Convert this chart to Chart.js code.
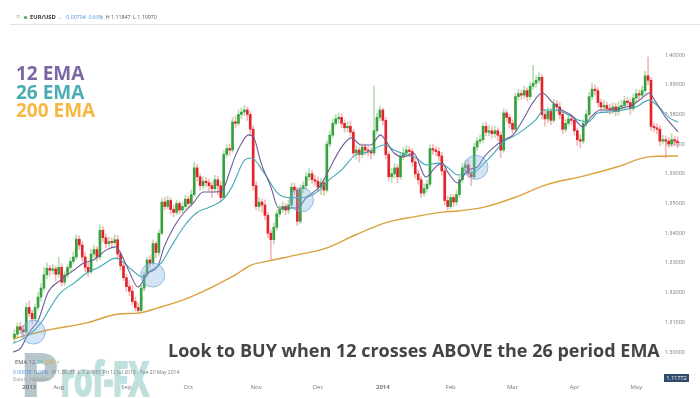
<!DOCTYPE html>
<html>
<head>
<meta charset="utf-8">
<script src="https://cdn.jsdelivr.net/npm/chart.js@4.4.0/dist/chart.umd.min.js"></script>
<style>
  html, body { margin: 0; padding: 0; background: #fff; }
  #wrap { position: relative; width: 700px; height: 398px; overflow: hidden; font-family: "Open Sans", sans-serif; }
  #chart { position: absolute; left: 0; top: 0; }
  .abs { position: absolute; white-space: nowrap; }
  #hdr { left: 16px; top: 13px; font-size: 5.3px; line-height: 8px; color: #555; }
  #hdr span { margin-right: 2.5px; }
  #mark { left: 20px; top: 342px; line-height: 62px; font-weight: 800; color: #bfe0dd; letter-spacing: -2px; }
  #mark .p { font-size: 62px; color: #b7c6ca; }
  #mark .rest { font-size: 50px; line-height: 50px; display: inline-block; transform: scaleX(0.62); transform-origin: left bottom; margin-left: 3px; }
  #emaTitles { left: 16px; top: 64px; font-size: 19px; line-height: 18.5px; font-weight: 700; }
  #caption { left: 168px; top: 341px; font-size: 18px; line-height: 18px; font-weight: 700; color: #444; }
  .small { font-size: 5px; line-height: 7px; color: #777; }
  #price { left: 664px; top: 374px; width: 25px; height: 8px; background: #2e4a6b; color: #fff; font-size: 5.5px; line-height: 8px; text-align: center; }
</style>
</head>
<body>
<div id="wrap">
  <div id="mark" class="abs"><span class="p">P</span><span class="rest">rof-FX</span></div>
  <canvas id="chart" width="700" height="398"></canvas>

  <div id="hdr" class="abs"><span style="color:#aaa;font-size:7px;margin-right:4px;">&#8801;</span><span style="display:inline-block;width:3px;height:3px;border-radius:50%;background:#2aa84a;vertical-align:middle;margin-right:3px;"></span><span style="font-weight:700;color:#333;font-size:5.8px;">EUR/USD</span><span style="color:#999;margin-right:4px;">&#8964;</span><span style="color:#4a8fd6;">0.00704</span><span style="color:#4a8fd6;">0.63%</span><span>H 1.11847</span><span>L 1.10970</span></div>
  <div class="abs" style="left:10px;top:24px;width:690px;height:1px;background:#e3e3e3;"></div>

  <div id="emaTitles" class="abs">
    <div style="color:#7d67a3;">12 EMA</div>
    <div style="color:#4badb3;">26 EMA</div>
    <div style="color:#f4b843;">200 EMA</div>
  </div>

  <div id="caption" class="abs">Look to BUY when 12 crosses ABOVE the 26 period EMA</div>

  <div class="abs small" style="left:15px;top:358.5px;font-size:5.8px;color:#555;">EMA <span style="color:#7d67a3">12</span> <span style="color:#4badb3">26</span> <span style="color:#e3a93a">200</span> <span style="color:#999">&#215;</span></div>
  <div class="abs small" style="left:13px;top:368.5px;"><span style="color:#4a8fd6">0.00018</span> &nbsp;<span style="color:#4a8fd6">0.01%</span> &nbsp; H 1.38035 &nbsp;L 1.29933 &nbsp;Fri 12 Jul 2013 - Tue 20 May 2014</div>
  <div class="abs small" style="left:13px;top:376px;font-size:4.6px;color:#999;">Data is indicative</div>

  <div id="price" class="abs">1.11772</div>
</div>

<script>
// daily EUR/USD candles, 12 Jul 2013 - 20 May 2014
const opens = [
  1.3045,1.3060,1.3085,1.3075,1.3068,1.3150,1.3130,1.3112,1.3150,1.3185,
  1.3215,1.3260,1.3282,1.3275,1.3280,1.3262,1.3285,1.3235,1.3260,1.3285,
  1.3305,1.3320,1.3380,1.3360,1.3320,1.3285,1.3270,1.3330,1.3345,1.3320,
  1.3410,1.3385,1.3365,1.3372,1.3368,1.3378,1.3330,1.3290,1.3250,1.3220,
  1.3205,1.3170,1.3150,1.3140,1.3215,1.3260,1.3310,1.3300,1.3365,1.3335,
  1.3400,1.3505,1.3490,1.3510,1.3480,1.3470,1.3500,1.3478,1.3490,1.3515,
  1.3500,1.3530,1.3620,1.3590,1.3560,1.3575,1.3570,1.3560,1.3550,1.3580,
  1.3560,1.3520,1.3665,1.3685,1.3680,1.3775,1.3770,1.3800,1.3808,1.3815,
  1.3800,1.3750,1.3560,1.3490,1.3505,1.3495,1.3460,1.3400,1.3378,1.3420,
  1.3465,1.3480,1.3490,1.3478,1.3495,1.3555,1.3545,1.3440,1.3550,1.3560,
  1.3590,1.3600,1.3580,1.3575,1.3555,1.3570,1.3545,1.3700,1.3730,1.3770,
  1.3785,1.3790,1.3770,1.3755,1.3760,1.3740,1.3670,1.3680,1.3665,1.3690,
  1.3680,1.3675,1.3670,1.3745,1.3790,1.3815,1.3780,1.3665,1.3590,1.3600,
  1.3620,1.3590,1.3660,1.3670,1.3680,1.3675,1.3640,1.3600,1.3580,1.3535,
  1.3550,1.3565,1.3685,1.3680,1.3675,1.3660,1.3610,1.3510,1.3490,1.3520,
  1.3505,1.3530,1.3580,1.3620,1.3630,1.3600,1.3590,1.3690,1.3710,1.3715,
  1.3760,1.3740,1.3745,1.3735,1.3745,1.3730,1.3680,1.3805,1.3790,1.3770,
  1.3750,1.3860,1.3870,1.3865,1.3880,1.3860,1.3895,1.3905,1.3915,1.3925,
  1.3800,1.3785,1.3810,1.3780,1.3835,1.3825,1.3800,1.3750,1.3770,1.3785,
  1.3780,1.3745,1.3715,1.3710,1.3770,1.3800,1.3860,1.3885,1.3880,1.3840,
  1.3825,1.3830,1.3820,1.3815,1.3825,1.3810,1.3825,1.3830,1.3845,1.3840,
  1.3820,1.3855,1.3870,1.3865,1.3880,1.3930,1.3915,1.3760,1.3755,1.3750,
  1.3710,1.3715,1.3710,1.3700,1.3715,1.3710
];
const highs = [
  1.3075,1.3098,1.3100,1.3090,1.3165,1.3172,1.3140,1.3160,1.3200,1.3230,
  1.3285,1.3300,1.3292,1.3296,1.3290,1.3320,1.3298,1.3270,1.3295,1.3318,
  1.3338,1.3395,1.3392,1.3372,1.3335,1.3300,1.3345,1.3360,1.3355,1.3428,
  1.3422,1.3398,1.3388,1.3385,1.3395,1.3392,1.3340,1.3302,1.3262,1.3240,
  1.3225,1.3185,1.3165,1.3225,1.3270,1.3320,1.3325,1.3378,1.3372,1.3412,
  1.3518,1.3522,1.3525,1.3520,1.3495,1.3512,1.3508,1.3505,1.3528,1.3525,
  1.3545,1.3640,1.3632,1.3600,1.3590,1.3588,1.3582,1.3572,1.3595,1.3592,
  1.3575,1.3678,1.3698,1.3700,1.3790,1.3795,1.3815,1.3822,1.3830,1.3825,
  1.3810,1.3762,1.3575,1.3520,1.3515,1.3512,1.3470,1.3412,1.3435,1.3478,
  1.3495,1.3505,1.3500,1.3510,1.3570,1.3568,1.3555,1.3562,1.3575,1.3605,
  1.3618,1.3612,1.3595,1.3590,1.3585,1.3580,1.3712,1.3745,1.3785,1.3800,
  1.3805,1.3802,1.3782,1.3775,1.3778,1.3750,1.3695,1.3690,1.3702,1.3700,
  1.3692,1.3688,1.3895,1.3805,1.3828,1.3822,1.3790,1.3675,1.3618,1.3635,
  1.3632,1.3672,1.3688,1.3695,1.3692,1.3685,1.3650,1.3612,1.3590,1.3565,
  1.3580,1.3698,1.3700,1.3692,1.3688,1.3672,1.3620,1.3525,1.3532,1.3530,
  1.3545,1.3592,1.3635,1.3645,1.3648,1.3615,1.3702,1.3722,1.3730,1.3772,
  1.3775,1.3762,1.3758,1.3760,1.3755,1.3740,1.3818,1.3815,1.3800,1.3782,
  1.3872,1.3885,1.3882,1.3895,1.3890,1.3910,1.3965,1.3930,1.3940,1.3935,
  1.3815,1.3825,1.3820,1.3850,1.3848,1.3840,1.3812,1.3782,1.3800,1.3798,
  1.3792,1.3755,1.3730,1.3782,1.3815,1.3875,1.3905,1.3900,1.3890,1.3852,
  1.3848,1.3842,1.3835,1.3840,1.3838,1.3842,1.3848,1.3862,1.3858,1.3852,
  1.3870,1.3885,1.3882,1.3895,1.3945,1.3993,1.3925,1.3772,1.3768,1.3762,
  1.3730,1.3728,1.3722,1.3735,1.3728,1.3725
];
const lows = [
  1.3030,1.3052,1.3062,1.3050,1.3060,1.3118,1.3095,1.3105,1.3140,1.3170,
  1.3205,1.3248,1.3255,1.3262,1.3240,1.3250,1.3222,1.3225,1.3250,1.3272,
  1.3295,1.3312,1.3345,1.3305,1.3270,1.3255,1.3262,1.3318,1.3305,1.3312,
  1.3370,1.3350,1.3355,1.3355,1.3360,1.3318,1.3275,1.3240,1.3205,1.3190,
  1.3158,1.3138,1.3128,1.3135,1.3205,1.3250,1.3285,1.3292,1.3318,1.3325,
  1.3395,1.3478,1.3482,1.3465,1.3455,1.3462,1.3465,1.3470,1.3482,1.3488,
  1.3492,1.3522,1.3575,1.3545,1.3548,1.3555,1.3542,1.3520,1.3540,1.3530,
  1.3505,1.3515,1.3655,1.3662,1.3672,1.3755,1.3762,1.3785,1.3795,1.3780,
  1.3730,1.3545,1.3478,1.3475,1.3470,1.3445,1.3385,1.3310,1.3365,1.3410,
  1.3455,1.3470,1.3462,1.3465,1.3485,1.3530,1.3425,1.3432,1.3535,1.3548,
  1.3578,1.3568,1.3560,1.3540,1.3530,1.3528,1.3538,1.3690,1.3720,1.3762,
  1.3770,1.3755,1.3740,1.3742,1.3725,1.3655,1.3650,1.3640,1.3655,1.3665,
  1.3660,1.3650,1.3662,1.3735,1.3778,1.3765,1.3650,1.3575,1.3572,1.3585,
  1.3570,1.3582,1.3648,1.3660,1.3658,1.3625,1.3585,1.3565,1.3520,1.3525,
  1.3540,1.3558,1.3665,1.3660,1.3645,1.3595,1.3495,1.3478,1.3482,1.3490,
  1.3495,1.3520,1.3570,1.3608,1.3588,1.3560,1.3582,1.3678,1.3700,1.3705,
  1.3728,1.3728,1.3720,1.3722,1.3712,1.3655,1.3672,1.3775,1.3755,1.3735,
  1.3742,1.3848,1.3850,1.3855,1.3845,1.3850,1.3885,1.3892,1.3905,1.3785,
  1.3760,1.3772,1.3765,1.3772,1.3810,1.3785,1.3735,1.3740,1.3760,1.3765,
  1.3730,1.3695,1.3688,1.3702,1.3760,1.3792,1.3850,1.3865,1.3825,1.3810,
  1.3815,1.3805,1.3800,1.3802,1.3795,1.3798,1.3812,1.3815,1.3825,1.3800,
  1.3812,1.3840,1.3850,1.3855,1.3872,1.3900,1.3745,1.3740,1.3735,1.3695,
  1.3700,1.3655,1.3688,1.3692,1.3695,1.3688
];
const closes = [
  1.3060,1.3085,1.3075,1.3068,1.3150,1.3130,1.3112,1.3150,1.3185,1.3215,
  1.3260,1.3282,1.3275,1.3280,1.3262,1.3285,1.3235,1.3260,1.3285,1.3305,
  1.3320,1.3380,1.3360,1.3320,1.3285,1.3270,1.3330,1.3345,1.3320,1.3410,
  1.3385,1.3365,1.3372,1.3368,1.3378,1.3330,1.3290,1.3250,1.3220,1.3205,
  1.3170,1.3150,1.3140,1.3215,1.3260,1.3310,1.3300,1.3365,1.3335,1.3400,
  1.3505,1.3490,1.3510,1.3480,1.3470,1.3500,1.3478,1.3490,1.3515,1.3500,
  1.3530,1.3620,1.3590,1.3560,1.3575,1.3570,1.3560,1.3550,1.3580,1.3560,
  1.3520,1.3665,1.3685,1.3680,1.3775,1.3770,1.3800,1.3808,1.3815,1.3800,
  1.3750,1.3560,1.3490,1.3505,1.3495,1.3460,1.3400,1.3378,1.3420,1.3465,
  1.3480,1.3490,1.3478,1.3495,1.3555,1.3545,1.3440,1.3550,1.3560,1.3590,
  1.3600,1.3580,1.3575,1.3555,1.3570,1.3545,1.3700,1.3730,1.3770,1.3785,
  1.3790,1.3770,1.3755,1.3760,1.3740,1.3670,1.3680,1.3665,1.3690,1.3680,
  1.3675,1.3670,1.3745,1.3790,1.3815,1.3780,1.3665,1.3590,1.3600,1.3620,
  1.3590,1.3660,1.3670,1.3680,1.3675,1.3640,1.3600,1.3580,1.3535,1.3550,
  1.3565,1.3685,1.3680,1.3675,1.3660,1.3610,1.3510,1.3490,1.3520,1.3505,
  1.3530,1.3580,1.3620,1.3630,1.3600,1.3590,1.3690,1.3710,1.3715,1.3760,
  1.3740,1.3745,1.3735,1.3745,1.3730,1.3680,1.3805,1.3790,1.3770,1.3750,
  1.3860,1.3870,1.3865,1.3880,1.3860,1.3895,1.3905,1.3915,1.3925,1.3800,
  1.3785,1.3810,1.3780,1.3835,1.3825,1.3800,1.3750,1.3770,1.3785,1.3780,
  1.3745,1.3715,1.3710,1.3770,1.3800,1.3860,1.3885,1.3880,1.3840,1.3825,
  1.3830,1.3820,1.3815,1.3825,1.3810,1.3825,1.3830,1.3845,1.3840,1.3820,
  1.3855,1.3870,1.3865,1.3880,1.3930,1.3915,1.3760,1.3755,1.3750,1.3710,
  1.3715,1.3710,1.3700,1.3715,1.3710,1.3705
];

// moving averages, traced points (candle index, price)
const ema12Idx = [-0.5,2.1,4.8,8.1,11.3,15.6,20.2,23.5,26.8,31.1,34.4,36.0,38.7,41.9,45.2,48.5,50.8,54.1,57.4,60.7,64.0,68.3,70.6,72.9,74.8,77.1,79.4,81.1,83.7,87.0,89.6,93.6,95.9,99.2,103.5,106.7,111.0,114.3,117.6,120.9,124.2,125.8,128.8,132.1,135.4,139.6,142.9,145.2,147.2,150.5,153.8,157.1,159.4,162.7,165.9,169.2,172.5,175.8,179.1,182.4,185.7,188.9,192.9,195.6,198.8,203.1,206.4,209.7,213.0,215.3,217.6,220.9,225.2];
const ema12 = [1.3000,1.3013,1.3064,1.3108,1.3199,1.3242,1.3276,1.3300,1.3310,1.3343,1.3354,1.3333,1.3276,1.3219,1.3266,1.3286,1.3354,1.3421,1.3468,1.3502,1.3539,1.3539,1.3545,1.3603,1.3657,1.3704,1.3731,1.3724,1.3636,1.3556,1.3485,1.3485,1.3485,1.3522,1.3556,1.3613,1.3690,1.3721,1.3697,1.3697,1.3731,1.3714,1.3670,1.3657,1.3670,1.3589,1.3623,1.3636,1.3603,1.3569,1.3613,1.3623,1.3657,1.3690,1.3714,1.3731,1.3781,1.3838,1.3872,1.3842,1.3815,1.3798,1.3758,1.3791,1.3815,1.3815,1.3822,1.3832,1.3855,1.3872,1.3842,1.3791,1.3741];
const ema26Idx = [-0.5,2.1,4.8,9.0,12.3,15.6,20.2,24.5,28.8,34.4,36.0,39.9,43.3,46.5,49.8,53.1,57.4,61.7,66.3,70.6,73.8,78.1,80.4,84.7,89.3,93.6,99.2,103.5,106.7,111.0,115.6,119.9,125.5,128.8,133.1,136.4,139.6,143.9,147.2,150.5,153.8,156.1,159.4,162.7,165.9,170.2,173.5,176.8,179.8,183.4,188.0,191.3,194.6,197.9,202.1,206.4,211.0,215.3,218.6,221.9,225.2];
const ema26 = [1.3030,1.3040,1.3057,1.3098,1.3152,1.3199,1.3232,1.3266,1.3286,1.3316,1.3310,1.3276,1.3253,1.3276,1.3300,1.3354,1.3421,1.3468,1.3488,1.3512,1.3556,1.3646,1.3653,1.3603,1.3535,1.3519,1.3522,1.3545,1.3579,1.3613,1.3663,1.3673,1.3697,1.3680,1.3663,1.3653,1.3630,1.3636,1.3620,1.3596,1.3603,1.3606,1.3636,1.3670,1.3707,1.3731,1.3754,1.3781,1.3815,1.3815,1.3798,1.3781,1.3774,1.3805,1.3808,1.3815,1.3825,1.3848,1.3825,1.3791,1.3774];
const ema200Idx = [-0.5,2.1,11.3,24.5,35.4,41.9,48.5,59.7,74.8,80.4,86.0,95.9,105.8,115.6,125.5,135.4,145.2,150.5,159.4,170.2,180.1,193.3,204.4,215.3,225.2];
const ema200 = [1.3044,1.3051,1.3074,1.3098,1.3128,1.3131,1.3148,1.3185,1.3259,1.3293,1.3306,1.3327,1.3350,1.3394,1.3434,1.3455,1.3471,1.3475,1.3488,1.3522,1.3562,1.3593,1.3623,1.3657,1.3660];

// 12/26 crossings that are circled
const crossIdx = [6.4, 46.9, 97.4, 156.6];
const crossPrice = [1.3067, 1.3259, 1.3512, 1.3622];

// x axis month labels
const monthStart = [5, 15, 38, 59, 82, 103, 125, 148, 169, 190, 211];
const monthNames = ['2013', 'Aug', 'Sep', 'Oct', 'Nov', 'Dec', '2014', 'Feb', 'Mar', 'Apr', 'May'];

const n = closes.length;
const dayLabels = closes.map((c, i) => String(i));
const isUp = closes.map((c, i) => c >= opens[i]);
const pts = (xs, ys) => xs.map((x, k) => ({ x: x, y: ys[k] }));

Chart.defaults.font.family = '"Open Sans", sans-serif';

new Chart(document.getElementById('chart'), {
  data: {
    labels: dayLabels,
    datasets: [
      {
        type: 'bubble', xAxisID: 'xl', order: 0,
        data: pts(crossIdx, crossPrice),
        radius: 12,
        backgroundColor: 'rgba(130,180,225,0.35)',
        borderColor: 'rgba(110,160,210,0.65)',
        borderWidth: 1
      },
      {
        type: 'line', xAxisID: 'xl', order: 1, label: '12 EMA',
        data: pts(ema12Idx, ema12),
        borderColor: '#6f5b98', borderWidth: 1.1, pointRadius: 0, cubicInterpolationMode: 'monotone'
      },
      {
        type: 'line', xAxisID: 'xl', order: 2, label: '26 EMA',
        data: pts(ema26Idx, ema26),
        borderColor: '#3fa9b5', borderWidth: 1.1, pointRadius: 0, cubicInterpolationMode: 'monotone'
      },
      {
        type: 'line', xAxisID: 'xl', order: 3, label: '200 EMA',
        data: pts(ema200Idx, ema200),
        borderColor: '#d9a23c', borderWidth: 1.4, pointRadius: 0, cubicInterpolationMode: 'monotone'
      },
      {
        type: 'bar', order: 4, label: 'body', grouped: false,
        data: opens.map((o, i) => [o, closes[i]]),
        backgroundColor: isUp.map(u => u ? '#35a23d' : '#e3232b'),
        barThickness: 2, minBarLength: 1
      },
      {
        type: 'bar', order: 5, label: 'wick', grouped: false,
        data: lows.map((l, i) => [l, highs[i]]),
        backgroundColor: isUp.map(u => u ? 'rgba(110,190,100,0.5)' : 'rgba(240,110,110,0.5)'),
        barThickness: 1
      }
    ]
  },
  options: {
    responsive: false,
    devicePixelRatio: 1,
    animation: false,
    events: [],
    layout: { padding: { left: 4, right: 9, top: 30, bottom: 0.8 } },
    plugins: { legend: { display: false }, tooltip: { enabled: false } },
    scales: {
      x: {
        type: 'category', offset: true,
        grid: { display: false, drawTicks: false }, border: { display: false },
        ticks: {
          autoSkip: false, maxRotation: 0, padding: 6, color: '#777',
          font: ctx => ({ size: 6, weight: (ctx.tick && /^\d{4}$/.test(ctx.tick.label)) ? 'bold' : 'normal' }),
          callback: (val, idx) => {
            const k = monthStart.indexOf(idx);
            return k < 0 ? null : monthNames[k];
          }
        }
      },
      xl: { type: 'linear', display: false, min: -0.5, max: n - 0.5 },
      y: {
        position: 'right', min: 1.29125, max: 1.40842,
        grid: { display: false, drawTicks: false }, border: { display: false },
        ticks: {
          mirror: true, padding: 6, stepSize: 0.01, includeBounds: false,
          color: '#777', font: { size: 5.5 },
          callback: v => v.toFixed(5)
        }
      }
    }
  }
});
</script>
</body>
</html>
